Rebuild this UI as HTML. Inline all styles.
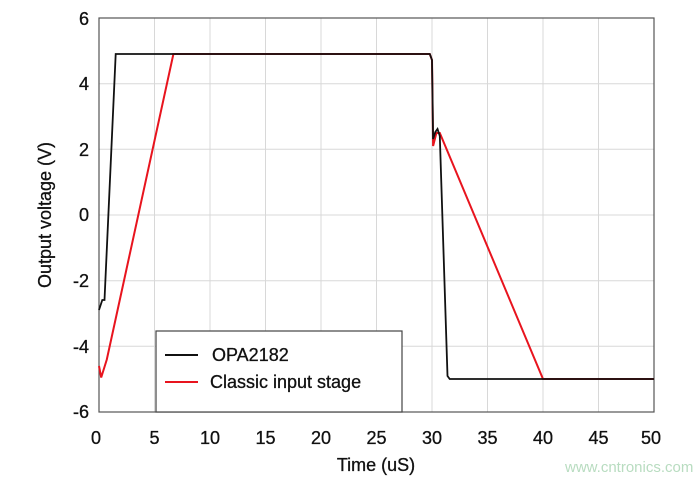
<!DOCTYPE html>
<html><head><style>body{margin:0;background:#fff}svg{display:block}</style></head><body>
<svg width="696" height="482" xmlns="http://www.w3.org/2000/svg" font-family="Liberation Sans, sans-serif">
<rect width="696" height="482" fill="#fff"/>
<g stroke="#d8d8d8" stroke-width="1">
<line x1="154.5" y1="18" x2="154.5" y2="412"/><line x1="210" y1="18" x2="210" y2="412"/><line x1="265.5" y1="18" x2="265.5" y2="412"/><line x1="321" y1="18" x2="321" y2="412"/><line x1="376.5" y1="18" x2="376.5" y2="412"/><line x1="432" y1="18" x2="432" y2="412"/><line x1="487.5" y1="18" x2="487.5" y2="412"/><line x1="543" y1="18" x2="543" y2="412"/><line x1="598.5" y1="18" x2="598.5" y2="412"/>
<line x1="99" y1="83.7" x2="654" y2="83.7"/><line x1="99" y1="149.3" x2="654" y2="149.3"/><line x1="99" y1="215" x2="654" y2="215"/><line x1="99" y1="280.7" x2="654" y2="280.7"/><line x1="99" y1="346.3" x2="654" y2="346.3"/>
</g>
<rect x="99" y="18" width="555" height="394" fill="none" stroke="#555" stroke-width="1.2"/>
<polyline fill="none" stroke="#e8141e" stroke-width="2" points="99,366 101.2,377.5 106.8,359.5 173.4,54 429.8,54 432,60 433.1,146 436.4,133 439.8,133 543,379 654,379"/>
<polyline fill="none" stroke="#111" stroke-width="1.8" points="99,310 102.3,300 104.5,300 115.7,54 429.8,54 432,60 433.1,139 435.3,132 437.5,129 439.8,136 447.5,376 449.7,379 654,379"/>
<rect x="156" y="331" width="246" height="81" fill="#fff" stroke="#444" stroke-width="1.2"/>
<line x1="165" y1="355" x2="198" y2="355" stroke="#111" stroke-width="2"/>
<line x1="165" y1="382" x2="198" y2="382" stroke="#e8141e" stroke-width="2"/>
<g font-size="18" fill="#111" stroke="#111" stroke-width="0.3">
<text x="212" y="361">OPA2182</text>
<text x="210" y="388">Classic input stage</text>
</g>
<g font-size="18" fill="#111" stroke="#111" stroke-width="0.3" text-anchor="end">
<text x="89" y="25">6</text><text x="89" y="90">4</text><text x="89" y="156">2</text><text x="89" y="221">0</text><text x="89" y="287">-2</text><text x="89" y="353">-4</text><text x="89" y="418">-6</text>
</g>
<g font-size="18" fill="#111" stroke="#111" stroke-width="0.3" text-anchor="middle">
<text x="96" y="444">0</text><text x="154.5" y="444">5</text><text x="210" y="444">10</text><text x="265.5" y="444">15</text><text x="321" y="444">20</text><text x="376.5" y="444">25</text><text x="432" y="444">30</text><text x="487.5" y="444">35</text><text x="543" y="444">40</text><text x="598.5" y="444">45</text><text x="651" y="444">50</text>
<text x="376" y="471">Time (uS)</text>
<text transform="translate(51,215) rotate(-90)">Output voltage (V)</text>
</g>
<text x="565" y="472" font-size="15" fill="#b8dcc0">www.cntronics.com</text>
</svg>
</body></html>
